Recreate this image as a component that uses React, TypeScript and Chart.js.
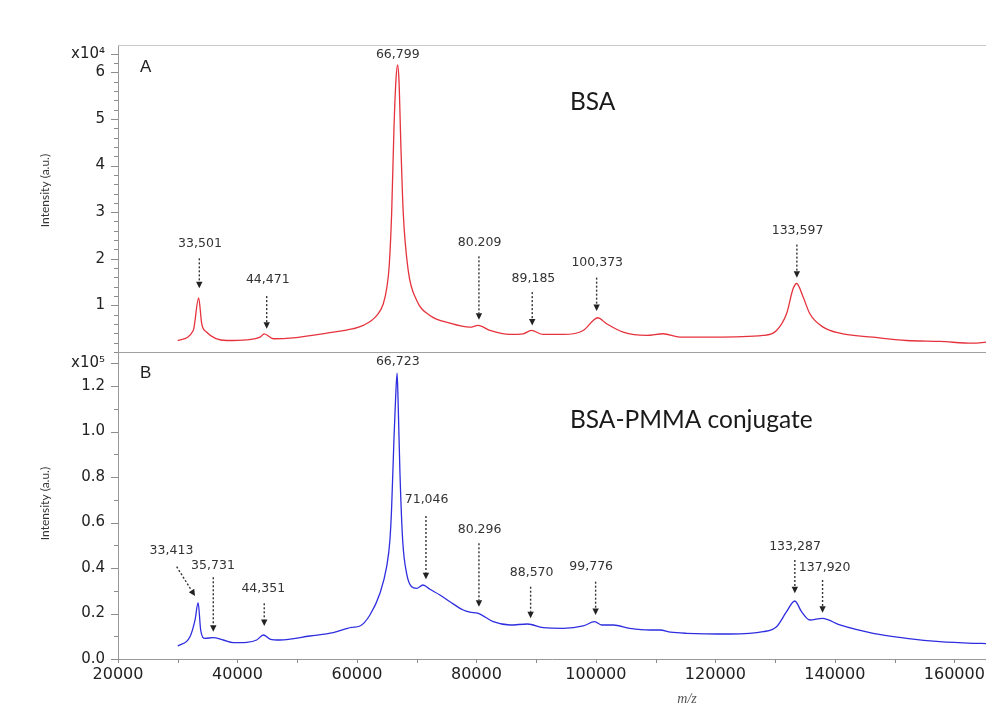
import React, { useEffect, useRef } from 'react';
import { Chart, registerables } from 'chart.js';

Chart.register(...registerables);

// ---- Spectrum A (BSA) : m/z and intensity (a.u.)
const MZ_A = [30000, 32600, 33501, 34010, 34850, 38190, 41540, 43770, 44471, 46000, 49340, 54930, 59380, 61050, 63300, 64400, 65000, 65400, 65810, 66190, 66530, 66799, 67030, 67360, 67750, 68580, 69990, 72220, 75560, 78910, 80300, 82260, 85610, 87830, 89185, 91180, 94530, 97870, 99550, 100300, 101790, 104570, 108480, 111260, 114060, 119630, 128000, 130240, 131910, 133020, 133597, 134690, 135810, 138040, 140830, 146400, 152000, 157570, 163140, 165300];
const INT_A = [2450, 4620, 11600, 6100, 4250, 2470, 2620, 3180, 3900, 2840, 3050, 4040, 4990, 5700, 7800, 10300, 13800, 18500, 29800, 47700, 58400, 61600, 58400, 44000, 29800, 17500, 11100, 7840, 6190, 5330, 5700, 4620, 3760, 3910, 4620, 3760, 3760, 4620, 6770, 7350, 6060, 4250, 3550, 3910, 3180, 3180, 3550, 4620, 8200, 13600, 14700, 11800, 8200, 5330, 4040, 3180, 2470, 2260, 1890, 2100];

// ---- Spectrum B (BSA-PMMA conjugate)
const MZ_B = [30000, 32050, 32890, 33413, 33840, 34560, 35900, 37620, 39290, 41540, 43210, 44351, 45440, 47110, 52130, 56030, 59110, 60500, 62170, 63850, 64970, 65520, 65810, 66190, 66480, 66723, 66910, 67200, 67650, 68310, 69150, 69990, 71046, 72220, 73890, 75560, 77790, 78900, 80296, 82810, 85610, 88570, 91180, 94530, 97870, 99776, 100950, 102900, 105690, 109040, 110710, 112500, 115180, 122430, 128000, 130240, 131910, 133287, 134420, 135810, 137920, 140830, 146400, 152000, 157570, 163140, 165300];
const INT_B = [5700, 9800, 17100, 24750, 12750, 9100, 9360, 8350, 7170, 7340, 8350, 10550, 8790, 8350, 10110, 11560, 13940, 14510, 19340, 28880, 40580, 52310, 66950, 96270, 115300, 125600, 110900, 81630, 52310, 37670, 31780, 31080, 32530, 30640, 28130, 25190, 21540, 20600, 20090, 16400, 14950, 15390, 13760, 13500, 14510, 16400, 14950, 14950, 13500, 12750, 12750, 11800, 11300, 10990, 12000, 14200, 20790, 25500, 20790, 17140, 17890, 14950, 11300, 9100, 7600, 6900, 6800];

// ---- Axes
const X_MIN = 20000;
const X_MAX = 165300;
const X_TICKS = [20000, 30000, 40000, 50000, 60000, 70000, 80000, 90000, 100000, 110000, 120000, 130000, 140000, 150000, 160000];
const YA_MAX = 65860;
const YA_TICKS = [0, 2000, 4000, 6000, 8000, 10000, 12000, 14000, 16000, 18000, 20000, 22000, 24000, 26000, 28000, 30000, 32000, 34000, 36000, 38000, 40000, 42000, 44000, 46000, 48000, 50000, 52000, 54000, 56000, 58000, 60000, 62000, 64000];
const YB_MAX = 134950;
const YB_TICKS = [0, 10000, 20000, 30000, 40000, 50000, 60000, 70000, 80000, 90000, 100000, 110000, 120000, 130000];

// ---- Peak annotations (data units)
const ANN_A_TEXT = ['33,501', '44,471', '66,799', '80.209', '89,185', '100,373', '133,597'];
const ANN_A_LABEL_MZ = [33720, 45070, 66830, 80530, 89540, 100220, 133750];
const ANN_A_LABEL_INT = [23250, 15520, 63720, 23380, 15730, 19170, 26110];
const ANN_A_FROM_MZ = [33610, 44890, null, 80420, 89340, 100120, 133640];
const ANN_A_FROM_INT = [20090, 11990, null, 20520, 12850, 15950, 23040];
const ANN_A_TO_MZ = [33610, 44890, null, 80420, 89340, 100120, 133640];
const ANN_A_TO_INT = [13650, 4990, null, 6920, 5700, 8770, 15950];

const ANN_B_TEXT = ['33,413', '35,731', '44,351', '66,723', '71,046', '80.296', '88,570', '99,776', '133,287', '137,920'];
const ANN_B_LABEL_MZ = [28950, 35900, 44320, 66830, 71660, 80530, 89240, 99210, 133330, 138290];
const ANN_B_LABEL_INT = [47610, 40880, 31080, 130700, 69900, 57020, 38110, 40580, 49370, 40310];
const ANN_B_FROM_MZ = [29820, 35950, 44480, null, 71550, 80420, 89070, 99950, 133300, 137940];
const ANN_B_FROM_INT = [40580, 35920, 24490, null, 62860, 50860, 31780, 33980, 43520, 34730];
const ANN_B_TO_MZ = [32890, 35950, 44480, null, 71550, 80420, 89070, 99950, 133300, 137940];
const ANN_B_TO_INT = [27690, 12000, 14510, null, 35040, 22990, 17890, 19340, 28880, 20350];

const PANEL_A_TITLE = 'BSA';
const PANEL_B_TITLE = 'BSA-PMMA conjugate';
const Y_TITLE = 'Intensity (a.u.)';
const X_TITLE = 'm/z';

const TICK_FONT = 'DejaVu Sans';

function drawArrow(ctx: CanvasRenderingContext2D, x1: number, y1: number, x2: number, y2: number) {
  const ang = Math.atan2(y2 - y1, x2 - x1);
  const head = 6.5;
  const hw = 3.2;
  const bx = x2 - Math.cos(ang) * head;
  const by = y2 - Math.sin(ang) * head;
  ctx.save();
  ctx.strokeStyle = '#333';
  ctx.fillStyle = '#222';
  ctx.lineWidth = 1.4;
  ctx.setLineDash([2, 2]);
  ctx.beginPath();
  ctx.moveTo(x1, y1);
  ctx.lineTo(bx, by);
  ctx.stroke();
  ctx.setLineDash([]);
  ctx.beginPath();
  ctx.moveTo(x2, y2);
  ctx.lineTo(bx + Math.sin(ang) * hw, by - Math.cos(ang) * hw);
  ctx.lineTo(bx - Math.sin(ang) * hw, by + Math.cos(ang) * hw);
  ctx.closePath();
  ctx.fill();
  ctx.restore();
}

const overlay = {
  id: 'overlay',
  afterDraw(chart: any) {
    const ctx: CanvasRenderingContext2D = chart.ctx;
    const xs = chart.scales.x;
    const yA = chart.scales.yA;
    const yB = chart.scales.yB;
    const area = chart.chartArea;
    ctx.save();
    // frame lines
    ctx.lineWidth = 1;
    ctx.strokeStyle = '#c8c8c8';
    ctx.beginPath();
    ctx.moveTo(area.left, Math.round(yA.top) + 0.5);
    ctx.lineTo(area.right, Math.round(yA.top) + 0.5);
    ctx.stroke();
    ctx.strokeStyle = '#a0a0a0';
    ctx.beginPath();
    ctx.moveTo(area.left, Math.round(yA.bottom) + 0.5);
    ctx.lineTo(area.right, Math.round(yA.bottom) + 0.5);
    ctx.stroke();

    // tick marks
    ctx.strokeStyle = '#8c8c8c';
    for (const s of [yA, yB]) {
      s.ticks.forEach((t: any) => {
        const py = Math.round(s.getPixelForValue(t.value)) + 0.5;
        const len = t.label !== '' ? 7 : 4;
        ctx.beginPath();
        ctx.moveTo(s.right - len, py);
        ctx.lineTo(s.right, py);
        ctx.stroke();
      });
    }
    xs.ticks.forEach((t: any) => {
      const px = Math.round(xs.getPixelForValue(t.value)) + 0.5;
      ctx.beginPath();
      ctx.moveTo(px, xs.top);
      ctx.lineTo(px, xs.top + 4);
      ctx.stroke();
    });

    // y titles
    ctx.fillStyle = '#333';
    ctx.font = '12px Lato';
    ctx.textAlign = 'center';
    ctx.textBaseline = 'middle';
    for (const [s, dy] of [[yA, -8], [yB, -2]] as any) {
      ctx.save();
      ctx.translate(45, (s.top + s.bottom) / 2 + dy);
      ctx.rotate(-Math.PI / 2);
      ctx.fillText(Y_TITLE, 0, 0);
      ctx.restore();
    }

    // x title
    ctx.font = 'italic 14px "Liberation Serif"';
    ctx.fillStyle = '#555';
    ctx.fillText(X_TITLE, 687, 699);

    // panel letters
    ctx.fillStyle = '#222';
    ctx.font = '17px "Liberation Sans"';
    ctx.textAlign = 'left';
    ctx.fillText('A', area.left + 22, yA.top + 22);
    ctx.fillText('B', area.left + 22, yB.top + 21);

    // panel titles
    ctx.font = '24.5px Lato';
    ctx.fillStyle = '#1a1a1a';
    ctx.fillText(PANEL_A_TITLE, 570, 102);
    ctx.fillText(PANEL_B_TITLE, 570, 420);

    // peak annotations
    const drawSet = (ys: any, text: string[], lmz: number[], lint: number[], fmz: any[], fint: any[], tmz: any[], tint: any[]) => {
      ctx.font = '12.5px "DejaVu Sans"';
      ctx.fillStyle = '#333';
      ctx.textAlign = 'center';
      ctx.textBaseline = 'middle';
      text.forEach((tx, i) => {
        ctx.fillText(tx, xs.getPixelForValue(lmz[i]), ys.getPixelForValue(lint[i]));
        if (fmz[i] != null) {
          drawArrow(ctx, xs.getPixelForValue(fmz[i]), ys.getPixelForValue(fint[i]), xs.getPixelForValue(tmz[i]), ys.getPixelForValue(tint[i]));
        }
      });
    };
    drawSet(yA, ANN_A_TEXT, ANN_A_LABEL_MZ, ANN_A_LABEL_INT, ANN_A_FROM_MZ, ANN_A_FROM_INT, ANN_A_TO_MZ, ANN_A_TO_INT);
    drawSet(yB, ANN_B_TEXT, ANN_B_LABEL_MZ, ANN_B_LABEL_INT, ANN_B_FROM_MZ, ANN_B_FROM_INT, ANN_B_TO_MZ, ANN_B_TO_INT);
    ctx.restore();
  },
};

export default function App() {
  const ref = useRef<HTMLCanvasElement>(null);
  useEffect(() => {
    const chart = new Chart(ref.current as HTMLCanvasElement, {
      type: 'line',
      data: {
        datasets: [
          {
            label: 'BSA',
            data: MZ_A.map((m, i) => ({ x: m, y: INT_A[i] })),
            yAxisID: 'yA',
            borderColor: '#e6323c',
            borderWidth: 1.3,
            pointRadius: 0,
            cubicInterpolationMode: 'monotone',
          },
          {
            label: 'BSA-PMMA conjugate',
            data: MZ_B.map((m, i) => ({ x: m, y: INT_B[i] })),
            yAxisID: 'yB',
            borderColor: '#2e2ee0',
            borderWidth: 1.3,
            pointRadius: 0,
            cubicInterpolationMode: 'monotone',
          },
        ],
      },
      options: {
        responsive: false,
        animation: false,
        events: [],
        layout: { padding: { top: 45, left: 0, right: 0, bottom: 0 } },
        plugins: { legend: { display: false }, tooltip: { enabled: false } },
        scales: {
          x: {
            type: 'linear',
            min: X_MIN,
            max: X_MAX,
            afterBuildTicks: (s: any) => { s.ticks = X_TICKS.map((v) => ({ value: v })); },
            afterFit: (s: any) => { s.height = 47; s.paddingLeft = 0; s.paddingRight = 0; },
            ticks: {
              autoSkip: false,
              maxRotation: 0,
              padding: 6,
              color: '#222',
              font: { family: TICK_FONT, size: 16 },
              callback: (v: any) => (v % 20000 === 0 ? String(v) : ''),
            },
            grid: { display: false, drawTicks: false },
            border: { display: true, color: '#999' },
          },
          yB: {
            type: 'linear',
            position: 'left',
            stack: 'panels',
            stackWeight: 1,
            min: 0,
            max: YB_MAX,
            afterBuildTicks: (s: any) => { s.ticks = YB_TICKS.map((v) => ({ value: v })); },
            afterFit: (s: any) => { s.width = 118; },
            ticks: {
              autoSkip: false,
              padding: 13,
              color: '#222',
              font: { family: TICK_FONT, size: 15 },
              callback: (v: any) => (v === 130000 ? 'x10\u2075' : v % 20000 === 0 ? (v / 100000).toFixed(1) : ''),
            },
            grid: { display: false, drawTicks: false },
            border: { display: true, color: '#999' },
          },
          yA: {
            type: 'linear',
            position: 'left',
            stack: 'panels',
            stackWeight: 1,
            min: 0,
            max: YA_MAX,
            afterBuildTicks: (s: any) => { s.ticks = YA_TICKS.map((v) => ({ value: v })); },
            afterFit: (s: any) => { s.width = 118; },
            ticks: {
              autoSkip: false,
              padding: 13,
              color: '#222',
              font: { family: TICK_FONT, size: 15 },
              callback: (v: any) => (v === 64000 ? 'x10\u2074' : v % 10000 === 0 && v > 0 ? String(v / 10000) : ''),
            },
            grid: { display: false, drawTicks: false },
            border: { display: true, color: '#999' },
          },
        },
      } as any,
      plugins: [overlay],
    });
    return () => chart.destroy();
  }, []);
  return (
    <div style={{ position: 'absolute', left: 0, top: 0, width: 986, height: 706, background: '#fff' }}>
      <canvas ref={ref} width={986} height={706} style={{ display: 'block' }} />
    </div>
  );
}
